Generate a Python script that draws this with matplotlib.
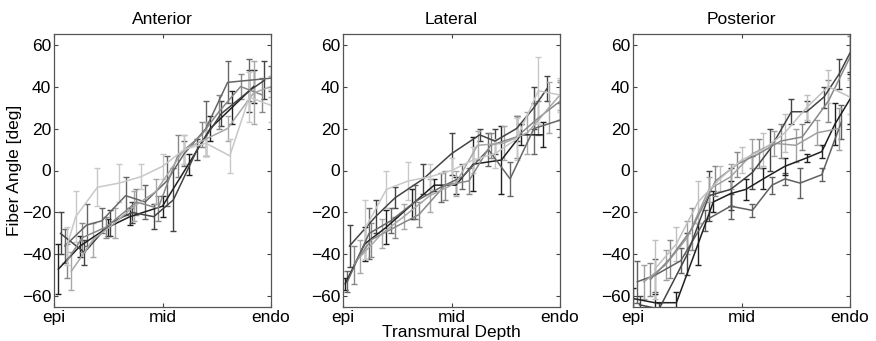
import numpy as np
import matplotlib
matplotlib.use('Agg')
import matplotlib.pyplot as plt

plt.rcParams['font.family'] = ['Liberation Sans', 'DejaVu Sans']

titles = ['Anterior', 'Lateral', 'Posterior']
tick_pos = [0, 0.5, 1]
tick_labels = ['epi', 'mid', 'endo']
ant_gray = ['#202020', '#444444', '#666666', '#888888', '#a8a8a8', '#c8c8c8']
lat_gray = ['#202020', '#444444', '#666666', '#888888', '#a8a8a8', '#c8c8c8']
pos_gray = ['#606060', '#202020', '#444444', '#a0a0a0', '#888888', '#c0c0c0']

# Anterior: depth, angle, error (one row per specimen)
ant_x = [
    [0.02, 0.12, 0.25, 0.35, 0.50, 0.62, 0.72, 0.82, 0.92],
    [0.03, 0.14, 0.26, 0.36, 0.46, 0.55, 0.66, 0.77, 0.90, 0.97],
    [0.05, 0.15, 0.22, 0.33, 0.42, 0.52, 0.60, 0.70, 0.80, 0.90, 1.00],
    [0.06, 0.13, 0.24, 0.38, 0.48, 0.57, 0.68, 0.76, 0.86, 0.96],
    [0.08, 0.18, 0.28, 0.37, 0.47, 0.60, 0.70, 0.80, 0.92, 1.00],
    [0.06, 0.10, 0.20, 0.30, 0.40, 0.50, 0.60, 0.70, 0.81, 0.90, 1.00],
]
ant_y = [
    [-47, -36, -27, -22, -17, 3, 20, 30, 40],
    [-30, -39, -25, -20, -22, -14, 10, 27, 38, 43],
    [-36, -26, -24, -12, -15, -5, 8, 20, 42, 43, 44],
    [-43, -32, -27, -15, -18, 7, 17, 28, 40, 36],
    [-48, -33, -25, -17, -10, 10, 15, 20, 37, 40],
    [-36, -22, -8, -6, -3, 2, 10, 13, 7, 35, 31],
]
ant_e = [
    [12, 5, 4, 4, 5, 5, 6, 8, 8],
    [10, 6, 6, 5, 6, 15, 5, 6, 10, 9],
    [8, 10, 6, 9, 8, 12, 6, 13, 10, 10, 6],
    [8, 7, 5, 6, 6, 10, 6, 8, 6, 8],
    [9, 8, 7, 7, 6, 7, 8, 6, 15, 5],
    [9, 12, 9, 9, 6, 6, 7, 6, 8, 12, 8],
]

# Lateral
lat_x = [
    [0.01, 0.10, 0.20, 0.32, 0.42, 0.52, 0.60, 0.73, 0.82, 0.92],
    [0.03, 0.15, 0.24, 0.37, 0.50, 0.63, 0.70, 0.80, 0.88, 0.94],
    [0.02, 0.12, 0.22, 0.33, 0.45, 0.55, 0.67, 0.77, 0.88, 1.00],
    [0.05, 0.13, 0.24, 0.35, 0.47, 0.58, 0.68, 0.80, 0.90, 1.00],
    [0.08, 0.18, 0.28, 0.40, 0.52, 0.62, 0.74, 0.85, 0.95, 1.00],
    [0.10, 0.20, 0.30, 0.40, 0.50, 0.60, 0.70, 0.80, 0.90, 1.00],
]
lat_y = [
    [-54, -35, -27, -16, -7, -7, 3, 5, 17, 17],
    [-36, -22, -13, -4, 8, 17, 14, 20, 30, 39],
    [-53, -30, -24, -15, -8, -3, 10, -4, 20, 24],
    [-45, -33, -27, -21, -7, -5, 12, 16, 25, 33],
    [-41, -30, -22, -12, -6, 12, 13, 18, 30, 36],
    [-28, -9, -5, -3, 0, 5, 8, 15, 38, 36],
]
lat_e = [
    [3, 8, 8, 7, 3, 4, 13, 16, 5, 6],
    [10, 8, 5, 7, 10, 3, 6, 6, 10, 6],
    [5, 12, 6, 8, 7, 6, 8, 8, 12, 8],
    [9, 8, 5, 6, 7, 6, 6, 10, 8, 9],
    [8, 7, 6, 8, 6, 7, 8, 10, 12, 7],
    [14, 9, 9, 6, 6, 6, 7, 10, 16, 8],
]

# Posterior
pos_x = [
    [0.02, 0.10, 0.22, 0.33, 0.45, 0.55, 0.64, 0.70, 0.77, 0.87, 0.96],
    [0.00, 0.10, 0.20, 0.30, 0.37, 0.45, 0.52, 0.60, 0.70, 0.80, 0.87, 0.93, 1.00],
    [0.03, 0.12, 0.25, 0.35, 0.45, 0.55, 0.63, 0.73, 0.80, 0.88, 0.95, 1.00],
    [0.05, 0.15, 0.25, 0.35, 0.45, 0.55, 0.65, 0.75, 0.85, 0.95],
    [0.08, 0.17, 0.27, 0.38, 0.48, 0.58, 0.68, 0.78, 0.90, 1.00],
    [0.10, 0.20, 0.30, 0.40, 0.50, 0.60, 0.70, 0.80, 0.90, 1.00],
]
pos_y = [
    [-53, -50, -43, -24, -17, -19, -7, -4, -6, -2, 23],
    [-61, -63, -63, -35, -15, -11, -9, -4, 2, 6, 9, 22, 34],
    [-64, -66, -40, -12, -9, -1, 10, 28, 28, 35, 46, 56],
    [-53, -45, -32, -9, -3, 8, 13, 12, 18, 20],
    [-52, -42, -28, -5, 3, 8, 14, 16, 33, 54],
    [-47, -35, -15, -4, 5, 10, 18, 30, 40, 35],
]
pos_e = [
    [10, 8, 6, 5, 6, 3, 4, 3, 7, 3, 8],
    [5, 4, 5, 10, 5, 6, 5, 5, 4, 2, 3, 10, 12],
    [4, 3, 10, 12, 10, 8, 10, 6, 5, 5, 7, 9],
    [8, 7, 8, 6, 6, 7, 6, 8, 6, 10],
    [8, 9, 10, 7, 6, 7, 8, 6, 10, 10],
    [14, 8, 10, 6, 6, 8, 9, 6, 8, 8],
]

panels = [(ant_x, ant_y, ant_e, ant_gray), (lat_x, lat_y, lat_e, lat_gray),
          (pos_x, pos_y, pos_e, pos_gray)]
lefts = [54 / 876, 343 / 876, 633 / 876]

fig = plt.figure(figsize=(8.76, 3.41), dpi=100)
for k, (xs, ys, es, cols) in enumerate(panels):
    ax = fig.add_axes([lefts[k], 0.1, 217 / 876, 0.80])
    for i in range(len(xs)):
        ax.errorbar(xs[i], ys[i], yerr=es[i], color=cols[i], lw=1.1,
                    elinewidth=1.0, capsize=2, capthick=1.0)
    ax.set_xlim(0, 1)
    ax.set_ylim(-65, 65)
    ax.set_xticks(tick_pos)
    ax.set_xticklabels(tick_labels)
    ax.set_yticks(np.arange(-60, 61, 20))
    ax.tick_params(direction='in', top=True, right=True, length=3,
                   labelsize=12.5, color='#444444', pad=2)
    for s in ax.spines.values():
        s.set_color('#555555')
        s.set_linewidth(0.9)
    ax.set_title(titles[k], fontsize=12.5, pad=7)
    if k == 0:
        ax.set_ylabel('Fiber Angle [deg]', fontsize=12.5, labelpad=0)
    if k == 1:
        ax.set_xlabel('Transmural Depth', fontsize=12.5, labelpad=0)

fig.savefig('out.png', dpi=100)
